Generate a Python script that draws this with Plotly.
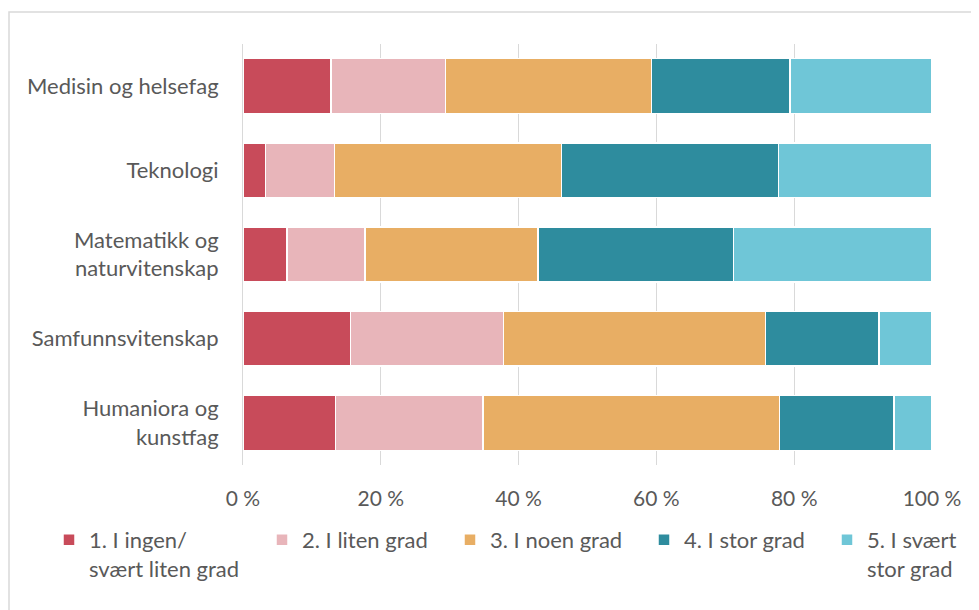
import plotly.graph_objects as go

# Fagområder (top to bottom)
categories = [
    "Medisin og helsefag",
    "Teknologi",
    "Matematikk og<br>naturvitenskap",
    "Samfunnsvitenskap",
    "Humaniora og<br>kunstfag",
]

# Share of answers per level, in percent
ingen = [12.8, 3.3, 6.4, 15.6, 13.4]
liten = [16.6, 10.0, 11.3, 22.2, 21.4]
noen = [29.9, 32.9, 25.1, 38.0, 43.1]
stor = [20.1, 31.5, 28.4, 16.5, 16.6]
svaert = [20.6, 22.3, 28.8, 7.7, 5.5]

series_names = [
    "1. I ingen/<br>svært liten grad",
    "2. I liten grad",
    "3. I noen grad",
    "4. I stor grad",
    "5. I svært<br>stor grad",
]
series_values = [ingen, liten, noen, stor, svaert]
colors = ["#C84B5A", "#E8B5BA", "#E8AE64", "#2E8C9E", "#6FC6D7"]

tick_vals = [0, 20, 40, 60, 80, 100]
tick_text = ["0 %", "20 %", "40 %", "60 %", "80 %", "100 %"]

FONT = "Lato, 'Open Sans', sans-serif"
GREY = "#595959"
W, H = 979, 610
ML, MR, MT, MB = 235, 55, 36, 153
PW, PH = W - ML - MR, H - MT - MB


def px_x(p):
    return (p - ML) / PW


def px_y(p):
    return (H - MB - p) / PH


# one legend per series so each entry sits where the original has it
legend_ids = ["legend", "legend2", "legend3", "legend4", "legend5"]
legend_left = [41, 254, 442, 636, 819]  # px from left of figure

fig = go.Figure()
for name, vals, col, lid in zip(series_names, series_values, colors, legend_ids):
    fig.add_trace(
        go.Bar(
            y=categories,
            x=vals,
            name=name,
            orientation="h",
            marker=dict(color=col, line=dict(color="white", width=1.5)),
            width=0.65,
            legend=lid,
            showlegend=True,
        )
    )

legends = {}
for lid, lx in zip(legend_ids, legend_left):
    legends[lid] = dict(
        x=px_x(lx),
        y=px_y(511),
        xanchor="left",
        yanchor="top",
        itemwidth=30,
        font=dict(size=22, color=GREY, family=FONT),
        bgcolor="rgba(0,0,0,0)",
        valign="top",
    )

fig.update_layout(
    showlegend=True,
    barmode="stack",
    width=W,
    height=H,
    paper_bgcolor="white",
    plot_bgcolor="white",
    margin=dict(l=ML, r=MR, t=MT, b=MB),
    font=dict(family=FONT, color=GREY, size=21),
    xaxis=dict(
        range=[0, 100],
        tickvals=tick_vals,
        ticktext=tick_text,
        showgrid=True,
        gridcolor="#D9D9D9",
        gridwidth=1,
        zeroline=False,
        showline=False,
        ticks="outside",
        ticklen=15,
        tickcolor="rgba(0,0,0,0)",
        tickfont=dict(size=21, color=GREY),
        fixedrange=True,
    ),
    yaxis=dict(
        autorange="reversed",
        showgrid=False,
        showline=True,
        linecolor="#D9D9D9",
        linewidth=1,
        ticks="outside",
        ticklen=19,
        tickcolor="rgba(0,0,0,0)",
        tickfont=dict(size=22, color=GREY),
    ),
    shapes=[
        dict(
            type="rect",
            xref="paper",
            yref="paper",
            x0=px_x(1),
            x1=1.2,
            y0=-0.5,
            y1=px_y(4),
            line=dict(color="#D9D9D9", width=1.5),
            fillcolor="rgba(0,0,0,0)",
            layer="below",
        )
    ],
    **legends,
)

fig.write_html("out.html")
